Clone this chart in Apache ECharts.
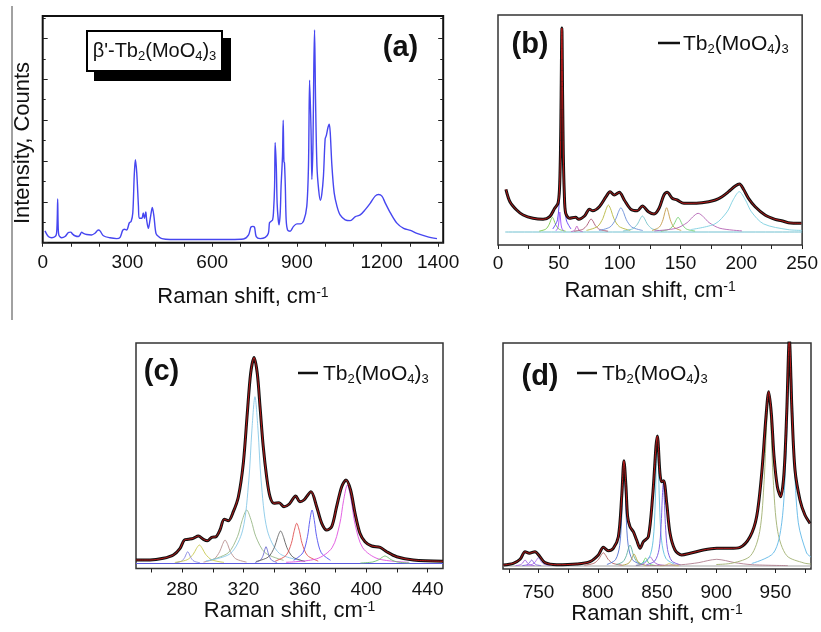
<!DOCTYPE html>
<html>
<head>
<meta charset="utf-8">
<script src="https://cdn.jsdelivr.net/npm/echarts@6/dist/echarts.min.js"></script>
<style>
  html, body { margin: 0; padding: 0; background: #fff; }
  #chart { width: 821px; height: 632px; }
</style>
</head>
<body>
<div id="chart"></div>
<script>
// ---- data ----
// (a) full spectrum, x = Raman shift (cm-1), y = intensity (arb. units)
var aCurve = [
  [8,0.29],[20,0.15],[32,0.12],[44,0.15],[49,0.23],[51.5,0.6],[53,1.07],[54.5,0.5],[57,0.19],[67,0.12],
  [79,0.15],[91,0.25],[99,0.26],[106,0.21],[114,0.17],[126,0.15],[132,0.19],[138,0.26],[144,0.23],[156,0.2],
  [173,0.19],[185,0.23],[197,0.31],[203,0.29],[215,0.17],[238,0.12],[262,0.10],[274,0.13],[283,0.30],[289,0.33],
  [297,0.31],[307,0.49],[313,0.52],[319,0.73],[324,1.63],[328,2.03],[333,1.71],[339,0.89],[342,0.60],[351,0.60],
  [356,0.73],[360,0.60],[365,0.75],[368,0.56],[374,0.35],[380,0.56],[386,0.81],[388,0.86],[394,0.64],[401,0.23],
  [410,0.15],[422,0.10],[451,0.08],[546,0.08],[664,0.08],[711,0.09],[729,0.19],[737,0.38],[744,0.40],[750,0.38],
  [756,0.15],[770,0.10],[788,0.13],[799,0.23],[803,0.49],[808,0.52],[814,0.56],[817,0.73],[821,1.38],[823,2.45],
  [827,1.88],[830,0.97],[834,0.56],[837,0.44],[841,0.73],[844,1.38],[849,2.12],[851.5,3.00],[854,1.99],[856,1.95],
  [859,1.38],[862,0.56],[867,0.31],[876,0.28],[888,0.40],[900,0.46],[912,0.46],[924,0.54],[935,0.89],[941,1.88],
  [945,3.98],[950,2.78],[953,1.55],[957,2.45],[960,4.35],[962.5,5.21],[966,3.52],[971,1.88],[977,1.30],[983,1.04],
  [988,1.18],[994,1.63],[1000,2.54],[1004,2.62],[1010,2.82],[1014.5,2.90],[1018,2.70],[1024,1.88],[1032,1.22],[1042,0.89],
  [1053,0.68],[1071,0.56],[1089,0.54],[1107,0.64],[1124,0.68],[1142,0.81],[1160,0.97],[1177,1.14],[1189,1.18],[1201,1.14],
  [1213,0.97],[1231,0.73],[1254,0.48],[1278,0.35],[1302,0.30],[1325,0.23],[1361,0.15],[1396,0.10]
];
var aTicks = [0,100,200,300,400,500,600,700,800,900,1000,1100,1200,1300,1400];
var aLabels = [0,300,600,900,1200,1400];
var aYMajor = [0,1,2,3,4,5];
var aYMinor = [0.5,1.5,2.5,3.5,4.5,5.5];

// (b) low-frequency region with fitted components
var bCurve = [
  [6.5,55.7],[9.8,43.3],[15.3,35],[20.7,30],[28.8,26.7],[37,25.7],[42.5,28.3],[46.6,36.7],[49.3,41.7],[50.5,55],
  [51.3,90],[51.9,150],[52.5,217],[53.1,150],[53.7,90],[54.5,52],[55.6,32],[58.8,26.7],[63.7,27.7],[66.4,25.7],
  [71.1,29],[75.2,35.7],[77.9,34.3],[83.3,38.3],[88.8,48.3],[92.1,53.3],[95.6,50],[99.7,52.7],[103.8,45],[109.2,35.7],
  [114.6,34.3],[118.7,39],[123.6,33.3],[128.3,31],[132.4,36.7],[136.4,50],[139.1,52.7],[143.2,46.7],[147.3,45],[152.8,41.7],
  [159.6,41.7],[167.7,42.3],[173.2,43.3],[178.7,45],[184.1,48.3],[189.5,53.3],[195,59],[198.5,61],[201.8,55.7],[205.9,46.7],
  [211.4,38.3],[219.5,30],[227.7,25.7],[233.1,24.3],[238.6,22.3],[249.4,21.7]
];
var bParts = [
  [[33.9,13.9],[39.3,15.9],[42,20.4],[43.4,24.8],[44.7,27.7],[46,24.8],[47.4,20.4],[50.1,15.9],[55.5,13.9]],
  [[47.6,14.2],[49.2,17],[50,23],[50.4,29],[50.8,33],[51.2,29],[51.6,23],[52.4,17],[54,14.2]],
  [[45,16],[48.9,25.2],[50.7,53.8],[51.6,115],[52.05,176],[52.5,217],[52.95,176],[53.4,115],[54.3,53.8],[56.1,25.2],[60,16]],
  [[60,13.4],[62.4,14.2],[63.6,16],[64.2,17.8],[64.8,19],[65.4,17.8],[66,16],[67.2,14.2],[69.6,13.4]],
  [[62.5,13.8],[69.5,15.6],[73,19.5],[74.8,23.4],[76.5,26],[78.3,23.4],[80,19.5],[83.5,15.6],[90.5,13.8]],
  [[72.7,14.6],[81.7,18.4],[86.2,26.5],[88.5,34.6],[90.7,40],[93,34.6],[95.2,26.5],[99.7,18.4],[108.7,14.6]],
  [[83,14.5],[92,17.9],[96.5,25.2],[98.8,32.4],[101,37.3],[103.3,32.4],[105.5,25.2],[110,17.9],[119,14.5]],
  [[102.7,14],[110.7,16.2],[114.7,21],[116.7,25.8],[118.7,29],[120.7,25.8],[122.7,21],[126.7,16.2],[134.7,14]],
  [[126.6,14.5],[132.6,17.9],[135.6,25.2],[137.1,32.4],[138.6,37.3],[140.1,32.4],[141.6,25.2],[144.6,17.9],[150.6,14.5]],
  [[134,13.9],[141,15.9],[144.5,20.4],[146.3,24.8],[148,27.7],[149.8,24.8],[151.5,20.4],[155,15.9],[162,13.9]],
  [[128.5,14.1],[146.5,16.7],[155.5,22.4],[160,28],[164.5,31.7],[169,28],[173.5,22.4],[182.5,16.7],[200.5,14.1]],
  [[158.3,15.4],[178.3,21.1],[188.3,33.2],[193.3,45.2],[198.3,53.3],[203.3,45.2],[208.3,33.2],[218.3,21.1],[238.3,15.4],[250,14.6]]
];
var bBase = [[6,13],[250,13]];
var bTicks = [0,25,50,75,100,125,150,175,200,225,250];
var bLabels = [0,50,100,150,200,250];

// (c) 250-450 cm-1 region
var cCurve = [
  [250,8.5],[259.1,8.5],[267.8,10.2],[274.3,13.5],[278.7,20.2],[281.5,28.5],[284.1,29.2],[287.3,30.2],[290.6,32.5],[293.9,29.2],
  [296.5,27.8],[299.3,31.2],[302.1,31.8],[304.7,38.5],[307.5,49.2],[310.2,47.8],[313.4,56.8],[316.7,71.8],[319.9,105.2],[322.5,155.2],
  [324.7,195.2],[326.9,211],[329,195.2],[330.8,161.8],[332.9,121.8],[335.1,91.8],[337.3,71.8],[339.9,65.2],[343.2,65.8],[346.4,61.8],
  [349.9,64.5],[354,72.5],[356.8,66.8],[359.4,68.5],[364,76.8],[367.7,61.8],[371,45.2],[374.2,38.5],[377.5,41.8],[380.7,61.8],
  [384,81.8],[386.8,88.5],[389.8,78.5],[392.7,55.2],[395.9,35.2],[399.2,26.8],[403.5,22.5],[409,21.2],[413.3,16.8],[419.8,11.8],
  [430.7,8.5],[450,7.2]
];
var cParts = [
  [[275.7,5.7],[279.7,7.4],[281.7,10.9],[282.7,14.4],[283.7,16.8],[284.7,14.4],[285.7,10.9],[287.7,7.4],[291.7,5.7]],
  [[275.3,6.1],[283.3,8.7],[287.3,14.3],[289.3,19.8],[291.3,23.5],[293.3,19.8],[295.3,14.3],[299.3,8.7],[307.3,6.1]],
  [[294,6.4],[301,9.7],[304.5,16.8],[306.3,23.8],[308,28.5],[309.8,23.8],[311.5,16.8],[315,9.7],[322,6.4]],
  [[298.1,8.2],[310.1,15.7],[316.1,31.8],[319.1,47.8],[322.1,58.5],[325.1,47.8],[328.1,31.8],[334.1,15.7],[346.1,8.2]],
  [[295.5,7.6],[311.5,15],[319.5,38.4],[323.5,88.4],[325.5,138.4],[327.5,171.8],[329.5,138.4],[331.5,88.4],[335.5,38.4],[343.5,15],[359.5,7.6]],
  [[327.5,6],[331.1,8.4],[332.9,13.4],[333.8,18.4],[334.7,21.8],[335.6,18.4],[336.5,13.4],[338.3,8.4],[341.9,6]],
  [[328.2,7],[336.2,11.5],[340.2,21.3],[342.2,31],[344.2,37.5],[346.2,31],[348.2,21.3],[352.2,11.5],[360.2,7]],
  [[340.7,7.4],[347.7,13],[351.2,25.1],[353,37.2],[354.7,45.2],[356.5,37.2],[358.2,25.1],[361.7,13],[368.7,7.4]],
  [[352.7,8.2],[358.7,15.7],[361.7,31.8],[363.2,47.8],[364.7,58.5],[366.2,47.8],[367.7,31.8],[370.7,15.7],[376.7,8.2]],
  [[347.7,6.2],[367.7,9.7],[377.7,20.7],[382.7,44.3],[385.2,67.8],[387.7,83.5],[390.2,67.8],[392.7,44.3],[397.7,20.7],[407.7,9.7],[427.7,6.2]],
  [[396.2,5.5],[404.2,6.5],[408.2,8.8],[410.2,11],[412.2,12.5],[414.2,11],[416.2,8.8],[420.2,6.5],[428.2,5.5]]
];
var cBase = [[250,5],[450,5]];
var cTicks = [260,280,300,320,340,360,380,400,420,440];
var cLabels = [280,320,360,400,440];

// (d) 720-980 cm-1 region
var dCurve = [
  [720.3,4],[728.7,5.7],[734.4,9.7],[738.6,17.3],[742.2,15.7],[747,17.3],[751.2,12.3],[755.5,6.3],[765.3,4.3],[782.2,5],
  [793.4,7.3],[800.5,14],[804.7,21.7],[808.9,18.3],[813.1,20.7],[817.4,32.3],[820.2,72.3],[822.1,108.3],[823.8,82.3],[825.2,52.3],
  [827.2,42.3],[830,37.3],[832.8,29],[835.7,20.7],[838.5,27.3],[842.7,32.3],[846.3,72.3],[850.3,133],[852.5,95.7],[853.9,87.3],
  [855.6,88.3],[858.2,65.7],[861,35.7],[865.2,19],[870.8,14],[877.9,15.7],[889.1,19],[900.4,20.7],[911.6,20.7],[920.1,21.7],
  [928.5,32.3],[934.1,52.3],[938.4,95.7],[942,152.3],[944.3,177.3],[946.5,155.7],[948.8,112.3],[951.6,82.3],[954.4,72.3],[957.2,95.7],
  [959.5,155.7],[961.7,230],[964,155.7],[966.5,99],[970.7,69],[974.9,54],[979.2,45.7]
];
var dParts = [
  [[730.6,3.4],[734.6,4.2],[736.6,6],[737.6,7.8],[738.6,9],[739.6,7.8],[740.6,6],[742.6,4.2],[746.6,3.4]],
  [[736.2,3.4],[740.2,4.2],[742.2,6],[743.2,7.8],[744.2,9],[745.2,7.8],[746.2,6],[748.2,4.2],[752.2,3.4]],
  [[739.8,3.5],[744.8,4.7],[747.3,7.2],[748.6,9.6],[749.8,11.3],[751.1,9.6],[752.3,7.2],[754.8,4.7],[759.8,3.5]],
  [[788.7,3.8],[796.7,5.7],[800.7,9.7],[802.7,13.6],[804.7,16.3],[806.7,13.6],[808.7,9.7],[812.7,5.7],[820.7,3.8]],
  [[807.7,4.5],[814.9,9.2],[818.5,23.5],[820.3,54.4],[821.2,85.2],[822.1,105.7],[823,85.2],[823.9,54.4],[825.7,23.5],[829.3,9.2],[836.5,4.5]],
  [[815.2,4.3],[821.2,7.2],[824.2,13.5],[825.7,19.8],[827.2,24],[828.7,19.8],[830.2,13.5],[833.2,7.2],[839.2,4.3]],
  [[820.6,3.7],[825.6,5.4],[828.1,9],[829.4,12.6],[830.6,15],[831.9,12.6],[833.1,9],[835.6,5.4],[840.6,3.7]],
  [[832.4,3.5],[836.4,4.6],[838.4,7],[839.4,9.4],[840.4,11],[841.4,9.4],[842.4,7],[844.4,4.6],[848.4,3.5]],
  [[832.1,3.6],[838.1,4.9],[841.1,7.7],[842.6,10.4],[844.1,12.3],[845.6,10.4],[847.1,7.7],[850.1,4.9],[856.1,3.6]],
  [[835.9,4.9],[843.1,10.6],[846.7,28.2],[848.5,66],[849.4,103.8],[850.3,129],[851.2,103.8],[852.1,66],[853.9,28.2],[857.5,10.6],[864.7,4.9]],
  [[840.9,4.2],[848.1,8],[851.7,19.5],[853.5,44.4],[854.4,69.2],[855.3,85.7],[856.2,69.2],[857.1,44.4],[858.9,19.5],[862.5,8],[869.7,4.2]],
  [[852.4,3.2],[856.4,3.5],[858.4,4.4],[859.4,5.2],[860.4,5.7],[861.4,5.2],[862.4,4.4],[864.4,3.5],[868.4,3.2]],
  [[840.4,3.4],[870.4,4.3],[885.4,6.4],[892.9,8.4],[900.4,9.7],[907.9,8.4],[915.4,6.4],[930.4,4.3],[960.4,3.4]],
  [[900,4.5],[914,6],[929.1,13.4],[936.7,37.5],[940.5,89.4],[942.4,141.2],[944.3,175.7],[946.2,141.2],[948.1,89.4],[951.9,37.5],[959.5,13.4],[974,6],[980,5]],
  [[930,5.5],[948.3,16],[955.3,46.2],[958.8,111],[960.6,175.8],[962.3,219],[964.1,175.8],[965.8,111],[969.3,46.2],[976.3,16],[980,12]]
];
var dBase = [[720,3],[980,3]];
var dTicks = [725,750,775,800,825,850,875,900,925,950,975];
var dLabels = [750,800,850,900,950];

// ---- styles ----
var FONT = '"Liberation Sans", Arial, Helvetica, sans-serif';
var bColors = ['#7cc84a','#9a4dff','#5b3df0','#c060c0','#a8506e','#b8b840','#6a8ed8','#78c4cc','#c49a48','#70d070','#b464b4','#7ccfe0'];
var cColors = ['#8080e0','#c8c850','#b89090','#98b888','#88c8e8','#7070d0','#606060','#e05050','#5050f0','#e050e0','#70c070'];
var dColors = ['#a060e0','#8060e0','#b070f0','#b06060','#5070d0','#60b0a0','#b0a040','#60d060','#a060d0','#60c0e0','#7050e0','#d0d060','#b08090','#a0b070','#60b8e8'];

var chart = echarts.init(document.getElementById('chart'));

var nameRich = { s: { fontSize: 14, fontFamily: FONT, color: '#111', verticalAlign: 'top', lineHeight: 22 } };
var subRich = { s: { fontSize: 13, fontFamily: FONT, color: '#111', verticalAlign: 'bottom', lineHeight: 24 } };

function xAxisOf(grid, min, max, ticks, labels, margin, gap) {
  return {
    type: 'value', gridIndex: grid, min: min, max: max, position: 'bottom',
    axisLine: { show: false }, splitLine: { show: false },
    axisTick: { show: true, inside: false, length: 4, customValues: ticks, lineStyle: { color: '#222', width: 1 } },
    axisLabel: { customValues: labels, margin: margin, fontSize: 19, fontFamily: FONT, color: '#111',
                 formatter: function (v) { return String(v); } },
    name: 'Raman shift, cm{s|-1}', nameLocation: 'middle', nameGap: gap,
    nameTextStyle: { fontSize: 22, fontFamily: FONT, color: '#111', lineHeight: 22, rich: nameRich }
  };
}
function yTicksOf(pos, vals, len) {
  return {
    type: 'value', gridIndex: 0, min: 0, max: 5.55, position: pos,
    axisLine: { show: false }, splitLine: { show: false }, axisLabel: { show: false },
    axisTick: { show: true, inside: true, length: len, customValues: vals, lineStyle: { color: '#222' } }
  };
}
function hiddenY(grid, max) {
  return { type: 'value', gridIndex: grid, min: 0, max: max, show: false, splitLine: { show: false } };
}
function line(xi, yi, data, color, width, z) {
  return {
    type: 'line', xAxisIndex: xi, yAxisIndex: yi, data: data, symbol: 'none', showSymbol: false,
    smooth: 0.3, silent: true, z: z, lineStyle: { color: color, width: width }
  };
}

var series = [];
series.push(line(0, 0, aCurve, '#4646f0', 1.4, 3));
series.push(line(2, 4, bBase, '#70c0d0', 1, 2));
bParts.forEach(function (p, i) { series.push(line(2, 4, p, bColors[i], 0.9, 2)); });
series.push(line(2, 4, bCurve, '#111', 3, 3));
series.push(line(2, 4, bCurve, '#c81818', 0.9, 4));
series.push(line(3, 5, cBase, '#5a5ae0', 1.2, 2));
cParts.forEach(function (p, i) { series.push(line(3, 5, p, cColors[i], 0.9, 2)); });
series.push(line(3, 5, cCurve, '#111', 3, 3));
series.push(line(3, 5, cCurve, '#c81818', 0.9, 4));
series.push(line(4, 6, dBase, '#a8a8a8', 1.2, 2));
dParts.forEach(function (p, i) { series.push(line(4, 6, p, dColors[i], 0.9, 2)); });
series.push(line(4, 6, dCurve, '#111', 3, 3));
series.push(line(4, 6, dCurve, '#c81818', 0.9, 4));

function legendText(x, y) {
  return {
    type: 'text', x: x, y: y, z: 10,
    style: { text: 'Tb{s|2}(MoO{s|4}){s|3}', fontSize: 21, fontFamily: FONT, fill: '#111',
             align: 'left', verticalAlign: 'middle', lineHeight: 24, rich: subRich }
  };
}
function legendLine(x1, x2, y) {
  return { type: 'line', z: 10, shape: { x1: x1, y1: y, x2: x2, y2: y }, style: { stroke: '#111', lineWidth: 2.5 } };
}
function panelTag(t, x, y) {
  return { type: 'text', x: x, y: y, z: 10,
    style: { text: t, fontSize: 29, fontWeight: 'bold', fontFamily: FONT, fill: '#111', align: 'center', verticalAlign: 'middle' } };
}

chart.setOption({
  animation: false,
  backgroundColor: '#fff',
  grid: [
    { left: 42.7, top: 16, width: 400.5, height: 226.7, show: true, borderColor: '#111', borderWidth: 2 },
    { left: 498, top: 15, width: 307, height: 230, show: true, borderColor: '#333', borderWidth: 1.5 },
    { left: 136, top: 343, width: 307, height: 225.5, show: true, borderColor: '#333', borderWidth: 1.5 },
    { left: 503, top: 343, width: 308, height: 226, show: true, borderColor: '#333', borderWidth: 1.5 }
  ],
  xAxis: [
    xAxisOf(0, 0, 1418, aTicks, aLabels, 11, 43),
    { type: 'value', gridIndex: 0, min: 0, max: 1418, position: 'top',
      axisLine: { show: false }, splitLine: { show: false }, axisLabel: { show: false },
      axisTick: { show: true, inside: true, length: 3.5, customValues: aTicks, lineStyle: { color: '#222' } } },
    xAxisOf(1, 0, 250, bTicks, bLabels, 9, 35),
    xAxisOf(2, 250, 450, cTicks, cLabels, 12, 31),
    xAxisOf(3, 720, 980, dTicks, dLabels, 14, 32)
  ],
  yAxis: [
    yTicksOf('left', aYMajor, 5),
    yTicksOf('left', aYMinor, 3),
    yTicksOf('right', aYMajor, 5),
    yTicksOf('right', aYMinor, 3),
    hiddenY(1, 230),
    hiddenY(2, 225.5),
    hiddenY(3, 226)
  ],
  series: series,
  graphic: [
    { type: 'line', shape: { x1: 12, y1: 6, x2: 12, y2: 320 }, style: { stroke: '#444', lineWidth: 1 } },
    { type: 'text', x: 22.5, y: 143, rotation: Math.PI / 2,
      style: { text: 'Intensity, Counts', fontSize: 22, fontFamily: FONT, fill: '#111', align: 'center', verticalAlign: 'middle' } },
    { type: 'rect', z: 10, shape: { x: 94, y: 38, width: 137, height: 43 }, style: { fill: '#000' } },
    { type: 'rect', z: 11, shape: { x: 87, y: 31, width: 135, height: 40 }, style: { fill: '#fff', stroke: '#000', lineWidth: 2 } },
    { type: 'text', z: 12, x: 154.5, y: 51,
      style: { text: "\u03b2'-Tb{s|2}(MoO{s|4}){s|3}", fontSize: 20, fontFamily: FONT, fill: '#111',
               align: 'center', verticalAlign: 'middle', lineHeight: 24, rich: subRich } },
    panelTag('(a)', 400.5, 48),
    panelTag('(b)', 530, 45),
    panelTag('(c)', 161.5, 371.5),
    panelTag('(d)', 540, 376.5),
    legendLine(658, 680, 43), legendText(683, 44),
    legendLine(298, 318, 373), legendText(323, 374),
    legendLine(577, 597, 373), legendText(602, 374)
  ]
});
</script>
</body>
</html>
